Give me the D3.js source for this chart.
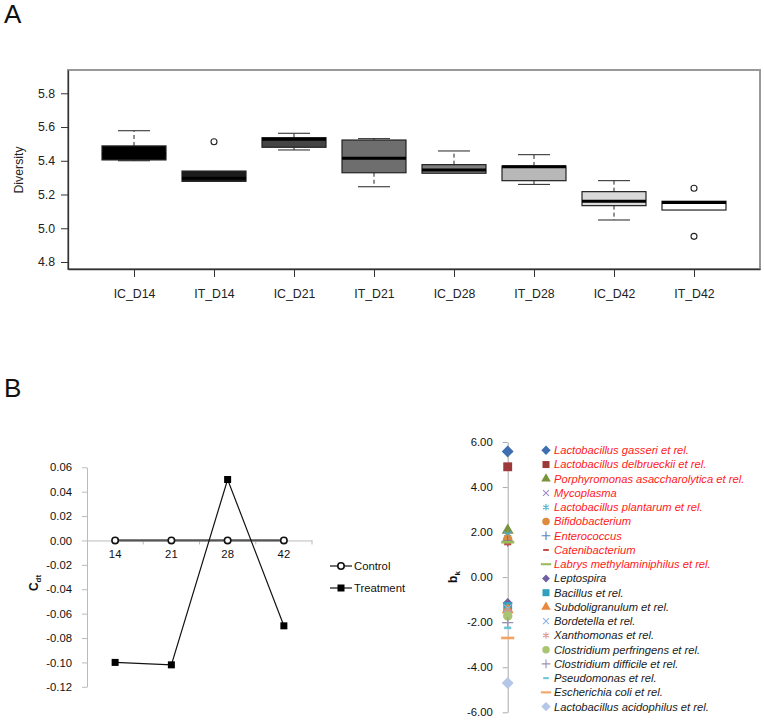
<!DOCTYPE html>
<html><head><meta charset="utf-8">
<script src="https://cdn.jsdelivr.net/npm/d3@7"></script>
<style>
html,body{margin:0;padding:0;background:#fff;}
svg{display:block;font-family:"Liberation Sans",Arial,sans-serif;}
</style></head>
<body>
<script>
// ---------- Panel A data ----------
const boxGroups = ["IC_D14","IT_D14","IC_D21","IT_D21","IC_D28","IT_D28","IC_D42","IT_D42"];
const boxMin    = [5.400,5.278,5.464,5.246,5.326,5.260,5.049,5.108];
const boxQ1     = [5.405,5.278,5.480,5.329,5.326,5.282,5.134,5.108];
const boxMedian = [5.440,5.296,5.527,5.415,5.345,5.365,5.160,5.152];
const boxQ3     = [5.488,5.339,5.537,5.523,5.377,5.369,5.217,5.160];
const boxMax    = [5.578,5.339,5.563,5.531,5.458,5.436,5.282,5.160];
const boxOutliers = [[],[5.513],[],[],[],[],[],[5.237,4.952]];
const boxFill   = ["#000000","#1c1c1c","#444444","#6e6e6e","#7e7e7e","#b8b8b8","#d9d9d9","#ffffff"];
const diversityTicks = [4.8,5.0,5.2,5.4,5.6,5.8];

// ---------- Panel B (left) data ----------
const days = ["14","21","28","42"];
const controlValues = [0,0,0,0];
const treatmentValues = [-0.100,-0.102,0.050,-0.070];
const cdtTicks = [0.06,0.04,0.02,0.00,-0.02,-0.04,-0.06,-0.08,-0.10,-0.12];
const lineSeries = ["Control","Treatment"];

// ---------- Panel B (right) data ----------
const taxa = ["Lactobacillus gasseri et rel.","Lactobacillus delbrueckii et rel.","Porphyromonas asaccharolytica et rel.","Mycoplasma","Lactobacillus plantarum et rel.","Bifidobacterium","Enterococcus","Catenibacterium","Labrys methylaminiphilus et rel.","Leptospira","Bacillus et rel.","Subdoligranulum et rel.","Bordetella et rel.","Xanthomonas et rel.","Clostridium perfringens et rel.","Clostridium difficile et rel.","Pseudomonas et rel.","Escherichia coli et rel.","Lactobacillus acidophilus et rel."];
const bkValues = [5.58,4.90,2.08,1.85,1.92,1.68,1.60,1.47,1.55,-1.15,-1.30,-1.45,-1.38,-1.55,-1.72,-2.02,-2.25,-2.70,-4.70];
const taxaColor = ["#3f6fb0","#9b3a38","#77933c","#a08cc0","#4bacc6","#e08a3c","#4f81bd","#c0504d","#9bbb59","#7060a0","#31a0bf","#e8883a","#8eb4e3","#d99694","#a9c574","#9a8fb5","#6fc5d8","#f4a460","#b4c7e7"];
const taxaSymbol = ["diamond","square","triangle","times","asterisk","circle","plus","dash","longdash","diamondS","square","triangle","times","asterisk","circle","plus","dash","longdash","diamond"];
const taxaRed = [1,1,1,1,1,1,1,1,1,0,0,0,0,0,0,0,0,0,0];
const bkTicks = [6,4,2,0,-2,-4,-6];

const svg = d3.select("body").append("svg").attr("width",764).attr("height",720);
const FONT = '"Liberation Sans",Arial,sans-serif';

// panel letters
svg.append("text").attr("x",4).attr("y",23).attr("font-size",26).attr("fill","#111").text("A");
svg.append("text").attr("x",4).attr("y",397).attr("font-size",26).attr("fill","#111").text("B");

// ================= Panel A =================
const xA = d3.scaleLinear().domain([0.175,8.825]).range([68,760]);
const yA = d3.scaleLinear().domain([4.7585,5.938]).range([269,70]);
const gA = svg.append("g");
gA.append("rect").attr("x",68).attr("y",70).attr("width",692).attr("height",199)
  .attr("fill","none").attr("stroke","#999").attr("stroke-width",2);

const axYA = gA.append("g").attr("transform","translate(68,0)")
  .call(d3.axisLeft(yA).tickValues(diversityTicks).tickFormat(d=>d.toFixed(1)).tickSize(7).tickSizeOuter(0).tickPadding(6));
const axXA = gA.append("g").attr("transform","translate(0,269)")
  .call(d3.axisBottom(xA).tickValues(d3.range(1,9)).tickFormat(d=>boxGroups[d-1]).tickSize(8).tickSizeOuter(0).tickPadding(12));
[axYA,axXA].forEach(a=>{
  a.selectAll("text").attr("font-size",12.3).attr("font-family",FONT).attr("fill","#222");
  a.selectAll("line").attr("stroke","#333");
  a.select(".domain").attr("stroke","#333").attr("stroke-width",1.3);
});
gA.append("text").attr("transform","translate(23,170) rotate(-90)").attr("text-anchor","middle")
  .attr("font-size",12.3).attr("fill","#222").text("Diversity");

const bw = 0.4, cw = 0.2;
boxGroups.forEach((g,i)=>{
  const p = i+1;
  const gg = gA.append("g");
  gg.append("line").attr("x1",xA(p)).attr("x2",xA(p)).attr("y1",yA(boxQ3[i])).attr("y2",yA(boxMax[i]))
    .attr("stroke","#222").attr("stroke-dasharray","4,3");
  gg.append("line").attr("x1",xA(p)).attr("x2",xA(p)).attr("y1",yA(boxQ1[i])).attr("y2",yA(boxMin[i]))
    .attr("stroke","#222").attr("stroke-dasharray","4,3");
  if (boxMax[i] > boxQ3[i]) gg.append("line").attr("x1",xA(p-cw)).attr("x2",xA(p+cw)).attr("y1",yA(boxMax[i])).attr("y2",yA(boxMax[i])).attr("stroke","#222");
  if (boxMin[i] < boxQ1[i]) gg.append("line").attr("x1",xA(p-cw)).attr("x2",xA(p+cw)).attr("y1",yA(boxMin[i])).attr("y2",yA(boxMin[i])).attr("stroke","#222");
  gg.append("rect").attr("x",xA(p-bw)).attr("width",xA(p+bw)-xA(p-bw))
    .attr("y",yA(boxQ3[i])).attr("height",yA(boxQ1[i])-yA(boxQ3[i]))
    .attr("fill",boxFill[i]).attr("stroke","#222").attr("stroke-width",1.2);
  gg.append("line").attr("x1",xA(p-bw)).attr("x2",xA(p+bw)).attr("y1",yA(boxMedian[i])).attr("y2",yA(boxMedian[i]))
    .attr("stroke","#000").attr("stroke-width",3);
  boxOutliers[i].forEach(o=>{
    gg.append("circle").attr("cx",xA(p)).attr("cy",yA(o)).attr("r",3).attr("fill","none").attr("stroke","#222").attr("stroke-width",1.1);
  });
});

// ================= Panel B left =================
const xB = d3.scaleBand().domain(days).range([87,312]);
const yB = d3.scaleLinear().domain([-0.12,0.06]).range([686.8,467.3]);
const gB = svg.append("g");
const axYB = gB.append("g").attr("transform","translate(87,0)")
  .call(d3.axisLeft(yB).tickValues(cdtTicks).tickFormat(d=>d.toFixed(2)).tickSize(5).tickSizeOuter(0).tickPadding(10));
axYB.selectAll("text").attr("font-size",11.3).attr("font-family",FONT).attr("fill","#111");
axYB.selectAll("line").attr("stroke","#bbb");
axYB.select(".domain").attr("stroke","#bbb");
const axXB = gB.append("g").attr("transform",`translate(0,${yB(0)})`)
  .call(d3.axisBottom(xB).tickSize(0).tickPadding(10).tickSizeOuter(0));
axXB.selectAll("text").attr("font-size",11.3).attr("font-family",FONT).attr("fill","#111");
axXB.select(".domain").attr("stroke","#bbb");
days.forEach(d=>{
  const bx = xB(d)+xB.bandwidth();
  gB.append("line").attr("x1",bx).attr("x2",bx).attr("y1",yB(0)).attr("y2",yB(0)+4).attr("stroke","#bbb");
});
const cx = d=>xB(d)+xB.bandwidth()/2;
const lineGen = d3.line().x((v,i)=>cx(days[i])).y(v=>yB(v));
gB.append("path").attr("d",lineGen(controlValues)).attr("fill","none").attr("stroke","#555").attr("stroke-width",2.2);
gB.append("path").attr("d",lineGen(treatmentValues)).attr("fill","none").attr("stroke","#111").attr("stroke-width",1.2);
controlValues.forEach((v,i)=>{
  gB.append("circle").attr("cx",cx(days[i])).attr("cy",yB(v)).attr("r",3.2).attr("fill","#fff").attr("stroke","#111").attr("stroke-width",1.6);
});
treatmentValues.forEach((v,i)=>{
  gB.append("rect").attr("x",cx(days[i])-3.5).attr("y",yB(v)-3.5).attr("width",7).attr("height",7).attr("fill","#000");
});
gB.append("text").attr("transform","translate(38,583) rotate(-90)").attr("text-anchor","middle")
  .attr("font-size",12).attr("font-weight","bold").attr("fill","#111")
  .call(t=>{t.append("tspan").text("C");t.append("tspan").attr("font-size",8).attr("dy",3).text("dt");});
lineSeries.forEach((s,i)=>{
  const ly = 566 + i*22;
  gB.append("line").attr("x1",330).attr("x2",352).attr("y1",ly).attr("y2",ly).attr("stroke","#111").attr("stroke-width",1.2);
  if (i===0) gB.append("circle").attr("cx",341).attr("cy",ly).attr("r",3.2).attr("fill","#fff").attr("stroke","#111").attr("stroke-width",1.6);
  else gB.append("rect").attr("x",337.5).attr("y",ly-3.5).attr("width",7).attr("height",7).attr("fill","#000");
  gB.append("text").attr("x",354).attr("y",ly).attr("dy","0.35em").attr("font-size",11.3).attr("fill","#111").text(s);
});

// ================= Panel B right =================
const yC = d3.scaleLinear().domain([-6,6]).range([712.3,442]);
const axX0 = 507.7;
const gC = svg.append("g");
const axYC = gC.append("g").attr("transform",`translate(${axX0},0)`)
  .call(d3.axisLeft(yC).tickValues(bkTicks).tickFormat(d=>d.toFixed(2)).tickSize(5).tickSizeOuter(0).tickPadding(10));
axYC.selectAll("text").attr("font-size",11.3).attr("font-family",FONT).attr("fill","#111");
axYC.selectAll("line").attr("stroke","#aaa");
axYC.select(".domain").attr("stroke","#aaa");
gC.append("text").attr("transform","translate(457,577) rotate(-90)").attr("text-anchor","middle")
  .attr("font-size",12).attr("font-weight","bold").attr("fill","#111")
  .call(t=>{t.append("tspan").text("b");t.append("tspan").attr("font-size",8).attr("dy",3).text("k");});

function marker(g, type, color, x, y, s){
  const k = s/8;
  const symMap = {square:d3.symbolSquare, triangle:d3.symbolTriangle, circle:d3.symbolCircle,
    times:d3.symbolTimes, asterisk:d3.symbolAsterisk, plus:d3.symbolPlus};
  const area = {square:56, triangle:44, circle:50, times:28, asterisk:34, plus:30};
  if (type==="dash") {
    g.append("rect").attr("x",x-3*k).attr("y",y-1.1*k).attr("width",6*k).attr("height",2.2*k).attr("fill",color);
  } else if (type==="longdash") {
    g.append("rect").attr("x",x-5.5*k).attr("y",y-1.1*k).attr("width",11*k).attr("height",2.2*k).attr("fill",color);
  } else if (type==="diamond" || type==="diamondS") {
    const r = (type==="diamond" ? 5 : 4.2)*k;
    g.append("path").attr("d",`M${x},${y-r}L${x+r},${y}L${x},${y+r}L${x-r},${y}Z`).attr("fill",color);
  } else {
    const stroke = (type==="times"||type==="asterisk"||type==="plus");
    const p = g.append("path").attr("transform",`translate(${x},${y})`)
      .attr("d",d3.symbol(symMap[type], area[type]*k*k)());
    if (stroke) p.attr("fill","none").attr("stroke",color).attr("stroke-width",1.1);
    else p.attr("fill",color);
  }
}
taxa.forEach((t,i)=>{ marker(gC, taxaSymbol[i], taxaColor[i], axX0, yC(bkValues[i]), 9.5); });
taxa.forEach((t,i)=>{
  const ly = 450.3 + i*14.24;
  marker(gC, taxaSymbol[i], taxaColor[i], 546, ly, 7.5);
  gC.append("text").attr("x",554).attr("y",ly).attr("dy","0.35em").attr("font-size",11.2).attr("font-style","italic")
    .attr("fill", taxaRed[i] ? "#ff1a1a" : "#1a1a1a").text(t);
});
</script>
</body></html>
